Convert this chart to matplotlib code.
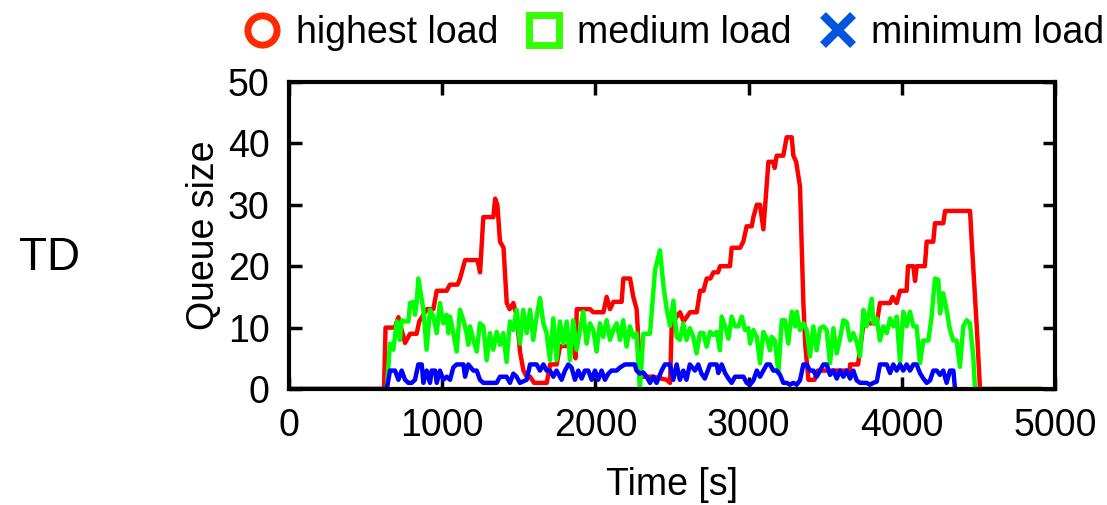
import matplotlib.pyplot as plt
from matplotlib.lines import Line2D

plt.rcParams['font.family'] = ['Liberation Sans', 'DejaVu Sans']

# queue size traces (time in s, queue length)
red_t = [0, 620, 630, 690, 714, 757, 790, 833, 850, 899, 942, 964, 1029, 1050, 1100,
         1116, 1149, 1230, 1247, 1268, 1334, 1345, 1360, 1377, 1400, 1421, 1440, 1464,
         1486, 1508, 1530, 1551, 1573, 1600, 1682, 1704, 1747, 1769, 1856, 1870, 1878,
         1965, 1986, 2052, 2073, 2095, 2117, 2171, 2182, 2226, 2247, 2269, 2291, 2300,
         2378, 2465, 2487, 2498, 2552, 2575, 2617, 2661, 2683, 2705, 2726, 2750, 2770,
         2800, 2813, 2878, 2889, 2944, 2965, 2987, 3020, 3031, 3053, 3074, 3096, 3129,
         3161, 3170, 3183, 3226, 3248, 3281, 3292, 3310, 3335, 3357, 3370, 3390, 3430,
         3450, 3660, 3662, 3714, 3738, 3750, 3836, 3857, 3923, 3940, 3966, 3988, 4031,
         4040, 4075, 4086, 4097, 4150, 4162, 4205, 4216, 4270, 4282, 4445, 4456, 4489,
         4510, 4900]
red_q = [0, 0, 10, 10, 11.7, 7.5, 9, 9, 11, 13, 13, 16, 16, 17, 17,
         18, 21, 21, 19, 28, 28, 31, 30, 24, 23, 14, 13, 14,
         12, 6, 3, 2, 2, 1, 1, 4, 4, 7, 7, 5, 13,
         13, 12.5, 12.5, 15, 13, 14.2, 14.2, 18, 18, 15, 13, 3, 2,
         2, 1.5, 1, 10.7, 12.5, 11, 12.5, 12.5, 16, 16, 18, 18, 19,
         19, 20, 20, 23, 23, 24, 26.5, 26.5, 28, 30, 30, 26, 37,
         37, 36, 38, 38, 41, 41, 38, 37, 33, 14, 7, 1.5, 1.5,
         3, 3, 4, 4, 8.5, 10.7, 10.7, 14, 14, 15, 14, 16, 16,
         20, 20, 17.6, 20, 20, 24, 24, 27, 27, 29, 29, 24, 10,
         0, 0]

green_t = [620, 638, 659, 681, 703, 724, 735, 757, 779, 790, 811, 822, 833, 844, 877,
           898, 920, 942, 964, 985, 1007, 1029, 1040, 1051, 1072, 1094, 1116, 1138,
           1159, 1170, 1181, 1203, 1225, 1246, 1268, 1290, 1312, 1333, 1355, 1377,
           1398, 1420, 1442, 1464, 1485, 1507, 1529, 1551, 1573, 1594, 1616, 1638,
           1660, 1681, 1703, 1725, 1746, 1768, 1790, 1812, 1834, 1855, 1877, 1899,
           1920, 1942, 1964, 1986, 2007, 2029, 2051, 2073, 2095, 2116, 2138, 2160,
           2181, 2203, 2225, 2247, 2268, 2290, 2313, 2356, 2389, 2421, 2443, 2465,
           2487, 2509, 2530, 2551, 2573, 2594, 2616, 2638, 2660, 2682, 2704, 2726,
           2748, 2770, 2791, 2813, 2824, 2846, 2868, 2889, 2911, 2933, 2955, 2976,
           2998, 3009, 3031, 3053, 3074, 3096, 3118, 3139, 3150, 3172, 3194, 3216,
           3237, 3259, 3281, 3303, 3314, 3335, 3357, 3379, 3400, 3422, 3444, 3466,
           3488, 3509, 3531, 3553, 3575, 3596, 3618, 3640, 3662, 3683, 3705, 3727,
           3749, 3770, 3803, 3814, 3836, 3857, 3879, 3901, 3923, 3944, 3966, 3988,
           4009, 4031, 4053, 4075, 4096, 4118, 4140, 4173, 4194, 4216, 4238, 4249,
           4270, 4292, 4314, 4336, 4357, 4379, 4401, 4423, 4444, 4466, 4477, 4900]
green_q = [0, 0, 7.4, 6.4, 11.0, 8.0, 11.2, 11.0, 11.0, 14.0, 14.2, 12.1, 14, 18, 12.9,
           6.4, 12.9, 11.8, 9.1, 14, 10.7, 12.1, 9.1, 11.8, 9.1, 6.1, 12.9, 11.2,
           9.1, 7.2, 10.2, 8.0, 6.1, 10.7, 10.2, 4.7, 9.1, 6.4, 9.3, 7.2,
           9.1, 4.4, 11.0, 9.6, 12.9, 7.4, 12.9, 9.1, 12.9, 8.0, 11.8, 14.8,
           10.7, 9.1, 4.7, 11.5, 4.7, 11.0, 7.4, 11.0, 4.7, 11.2, 6.4, 9.6,
           12.6, 7.4, 10.7, 9.6, 6.1, 10.7, 8.5, 11.2, 8.0, 9.6, 10.7, 8.0,
           11.2, 6.9, 10.2, 8.5, 9.1, 0, 9, 9, 19.4, 22.6, 17, 13,
           10.3, 14.4, 8.5, 8.0, 10.7, 8.0, 9.9, 8.5, 5.8, 9.1, 9.1, 6.9,
           9.3, 8.8, 9.3, 6.3, 11.8, 10.2, 8.2, 11.8, 10.2, 10.2, 11.8, 9.6,
           9.9, 7.4, 9.6, 8.5, 4.2, 9.3, 8.2, 6.3, 8.5, 7.9, 2.6, 11.2,
           11.2, 7.4, 12.6, 10.2, 12.6, 9.6, 10.7, 9.6, 5.3, 10.2, 6.3, 9.9,
           10.2, 9.6, 4.2, 9.9, 5.8, 8.2, 11.2, 10.9, 7.9, 9.1, 7.7, 5.3,
           12.9, 10.2, 14.7, 10.7, 11.5, 7.9, 10.2, 9.1, 11.5, 10.2, 11.8, 4.4,
           12.6, 10.2, 12.6, 10.2, 10.2, 4.2, 7.9, 7.9, 11.8, 18.0, 17.8, 12.3,
           15.6, 12.9, 9.6, 7.9, 7.9, 3.6, 10.2, 11.2, 10.7, 5.3, 0, 0]

blue_t = [0, 620, 638, 659, 692, 714, 735, 757, 779, 801, 822, 844, 866, 877, 898,
          920, 931, 953, 964, 985, 1007, 1029, 1051, 1072, 1094, 1138, 1149, 1170,
          1203, 1225, 1246, 1268, 1355, 1377, 1420, 1442, 1464, 1485, 1507, 1551,
          1573, 1616, 1638, 1660, 1681, 1703, 1725, 1746, 1779, 1801, 1823, 1844,
          1866, 1888, 1910, 1931, 1953, 1975, 1997, 2018, 2040, 2062, 2084, 2105,
          2138, 2160, 2192, 2257, 2268, 2290, 2312, 2334, 2356, 2377, 2399, 2432,
          2453, 2486, 2508, 2530, 2551, 2573, 2594, 2616, 2649, 2671, 2692, 2714,
          2748, 2791, 2802, 2824, 2846, 2868, 2889, 2911, 2966, 2987, 3009, 3031,
          3053, 3074, 3096, 3118, 3139, 3161, 3183, 3205, 3226, 3248, 3270, 3292,
          3313, 3335, 3357, 3379, 3400, 3422, 3444, 3466, 3488, 3509, 3531, 3553,
          3575, 3596, 3618, 3640, 3662, 3683, 3705, 3727, 3770, 3792, 3814, 3836,
          3857, 3901, 3923, 3944, 3966, 3988, 4009, 4031, 4053, 4075, 4096, 4118,
          4140, 4162, 4184, 4205, 4227, 4249, 4270, 4292, 4314, 4336, 4347]
blue_q = [0, 0, 0, 3, 3, 1.5, 3, 1.5, 1, 1, 1.5, 4, 4, 1, 3,
          1, 3, 3, 1, 3, 1.5, 2, 1.5, 3.5, 4, 4, 2, 4,
          3, 3, 1.5, 1, 1, 2, 2, 1, 2.5, 2, 1, 1.5,
          4, 4, 3, 4, 3, 3, 2, 3, 1.5, 3, 4, 3.5,
          1.5, 3, 1.7, 3, 3, 1.5, 3, 1.5, 3, 1.5, 2.5, 3,
          3, 3.5, 4, 4, 3, 2.5, 2.7, 2, 1, 2, 1, 3,
          4, 4, 1.5, 4, 1.5, 3, 1.5, 4, 3, 4, 2.5, 1.7,
          4, 4, 2.6, 4, 2.6, 1.7, 1, 2, 2, 1, 0.7, 1.4,
          3, 2, 3, 4, 4, 3, 3, 2.3, 1, 1, 0.7, 1,
          0.7, 1.4, 4, 4, 3, 3, 2, 3, 4, 4, 2.3, 3,
          1.7, 3, 2, 3, 1.7, 3, 1.4, 1, 1, 0.7, 1, 1.2,
          4, 4, 2.6, 4, 3, 4, 3, 4, 3, 4, 4, 2.6,
          1.7, 1, 1.4, 3, 3, 2.3, 3, 1, 3, 3, 0]

labels = ['highest load', 'medium load', 'minimum load']
x_ticks = [0, 1000, 2000, 3000, 4000, 5000]
y_ticks = [0, 10, 20, 30, 40, 50]

fig = plt.figure(figsize=(11.07, 5.05), dpi=100)
ax = fig.add_axes([0.2611, 0.2297, 0.6920, 0.6079])

ax.plot(red_t, red_q, color='#ff0000', lw=3.2, zorder=2)
ax.plot(green_t, green_q, color='#00ff00', lw=3.2, zorder=3)
ax.plot(blue_t, blue_q, color='#0000ff', lw=3.2, zorder=4)

ax.set_xlim(0, 5000)
ax.set_ylim(0, 50)
ax.set_xticks(x_ticks)
ax.set_yticks(y_ticks)
ax.tick_params(direction='in', length=9, width=2.5, labelsize=27, pad=14,
               top=True, right=True)
for s in ax.spines.values():
    s.set_linewidth(3)
    s.set_zorder(5)
ax.set_xlabel('Time [s]', fontsize=27, labelpad=16)
ax.set_ylabel('Queue size', fontsize=27, labelpad=4)

fig.text(0.045, 0.49, 'TD', fontsize=33, ha='center', va='center')

handles = [
    Line2D([], [], ls='none', marker='o', ms=21, mfc='none', mec='#ff2a00', mew=5),
    Line2D([], [], ls='none', marker='s', ms=21, mfc='none', mec='#33ff00', mew=5),
    Line2D([], [], ls='none', marker='x', ms=21, mec='#0055dd', mew=6),
]
fig.legend(handles, labels, loc='center', bbox_to_anchor=(0.607, 0.935), ncol=3,
           frameon=False, fontsize=27, handletextpad=0.3, columnspacing=0.62,
           handlelength=1.2, borderaxespad=0)

fig.savefig('out.png', dpi=100)
